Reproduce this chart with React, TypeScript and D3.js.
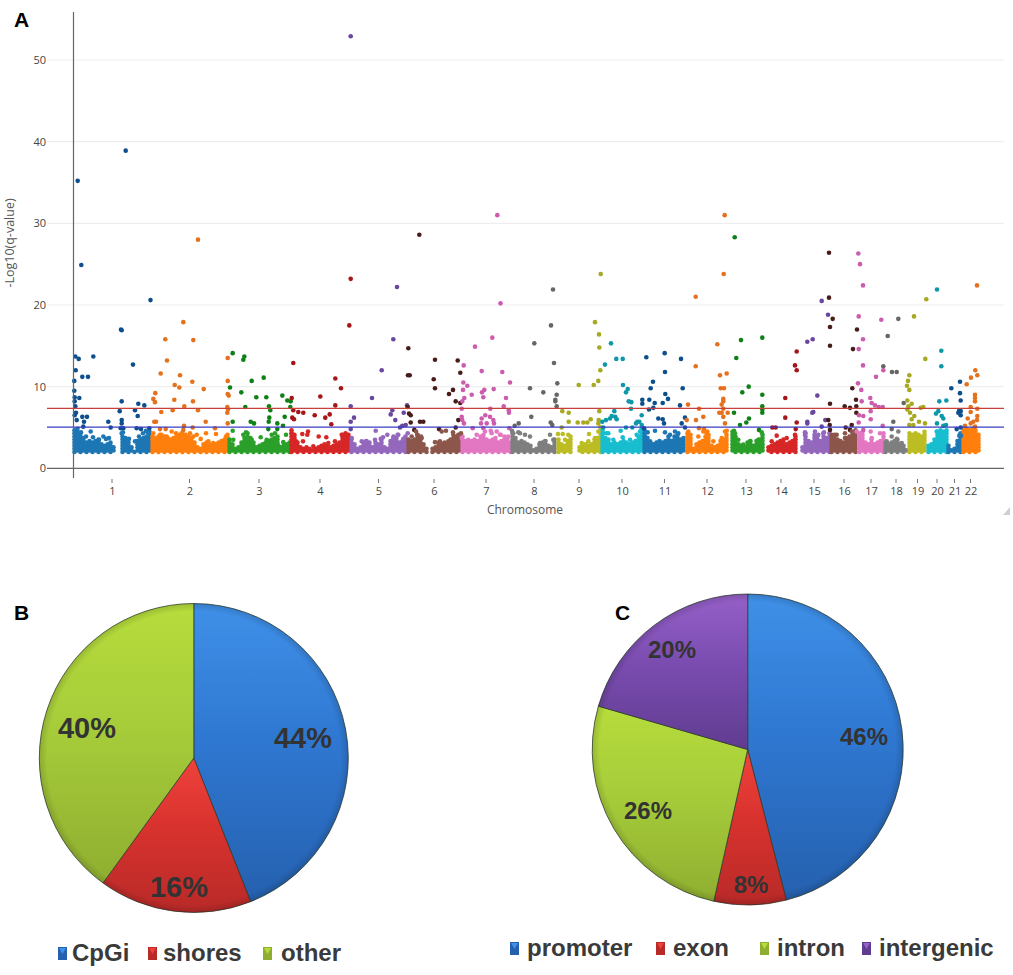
import * as d3 from "d3"

// panel A: genome position is in bins of about 3.2 Mb, counted from the start of chr1
const chromNames = ["1", "2", "3", "4", "5", "6", "7", "8", "9", "10", "11", "12", "13", "14", "15", "16", "17", "18", "19", "20", "21", "22"]
const chromStarts = [0, 78, 155, 217, 277, 334, 388, 438, 484, 528, 570, 613, 655, 691, 725, 757, 785, 811, 835, 854, 874, 889, 906]
const yTicks = [0, 10, 20, 30, 40, 50]
const redLine = 7.33
const blueLine = 5.05

// top of the dense band (q-value), one reading every 3 bins along each chromosome. 0 = gap
const chr1Band = [4.9, 5, 4.6, 4, 3.4, 3.5, 3.3, 3.6, 3.7, 3, 2.9, 3.1, 3.3, 2.6, 0, 0, 4.2, 4, 3.2, 2.8, 2.2, 3.4, 3.6, 3.8, 4.1, 4.5]
const chr2Band = [3.9, 3.9, 4, 4.1, 4.1, 3.8, 3.6, 3.8, 4, 4.2, 4.5, 4.3, 4.2, 3.9, 3.3, 2.6, 2.4, 3, 3.3, 3.1, 3, 3.3, 3.2, 3.4, 3.6, 4.2]
const chr3Band = [3.6, 3.2, 2.7, 2.6, 3.2, 4, 4.3, 3.8, 3.2, 2.9, 2.8, 3, 3.2, 3.4, 3.7, 4, 4.2, 2.6, 2.8, 3.1, 3.3]
const chr4Band = [4.9, 4.2, 3.4, 2.8, 2.5, 2.7, 2.5, 2.3, 2.6, 2.8, 3, 3.2, 3, 2.9, 3.1, 3, 3.3, 4.2, 4.3, 4.2]
const chr5Band = [3.7, 3.2, 2.6, 2.8, 3.3, 3.4, 3.2, 2.9, 3.3, 3.3, 3.6, 2.8, 2.6, 3.6, 4.1, 3.8, 3.5, 3.6, 4]
const chr6Band = [3.7, 3.5, 3.6, 4.2, 3.6, 3.3, 2.5, 0, 2.7, 2.9, 3.3, 3, 3.4, 3.2, 3.6, 3.9, 4, 4.2]
const chr7Band = [4.2, 3.5, 3.2, 3.4, 3.7, 3.5, 3.9, 4.2, 3.8, 3.5, 3.8, 3.9, 3.4, 3.6, 4, 3.8, 3.5]
const chr8Band = [4.4, 3.8, 3.4, 3.5, 3.4, 3.2, 2.8, 2.3, 2.5, 3, 3.2, 3.4, 2.9, 2.6, 3.6]
const chr9Band = [3.8, 3.2, 3, 3.6, 3.9, 0, 0, 2.8, 3, 3.1, 3, 3.3, 3.6, 4, 5.2]
const chr10Band = [5, 3.9, 3.6, 3.2, 3.4, 3.3, 3.2, 3.4, 3.3, 3.1, 3.3, 3.6, 3.9, 5]
const chr11Band = [5, 4, 3.5, 3.2, 3.3, 3.6, 3.4, 3.5, 4.2, 3.6, 3.9, 4.1, 3.8, 4]
const chr12Band = [4.5, 4.4, 2.7, 3, 3.4, 3.5, 3.9, 4.2, 3, 2.7, 3, 3.4, 3.8, 4.4]
const chr13Band = [0, 4.6, 4, 3.2, 2.8, 2.6, 3.3, 3.4, 2.8, 3.4, 3.6, 4.2]
const chr14Band = [0, 2.9, 3.1, 3, 3.3, 3.5, 3.6, 3.3, 3.5, 3.7, 3.9]
const chr15Band = [0, 2.6, 4.3, 3.4, 3.3, 4.2, 3.8, 3.7, 3.9, 4, 4.3]
const chr16Band = [4.2, 4.1, 3.6, 3.6, 3.4, 3.9, 4, 4.3, 4.7]
const chr17Band = [4.6, 4.5, 3.5, 3.2, 3.8, 3.2, 3.4, 3.7, 4.6]
const chr18Band = [3.3, 3, 3.4, 3.7, 3.6, 3.2, 2.8, 2.4]
const chr19Band = [4.5, 4.4, 4.3, 4.2, 4, 4.5]
const chr20Band = [2.8, 3.3, 3.8, 4.6, 4.7, 4.6, 4.8]
const chr21Band = [2.9, 2.4, 2.6, 3.4, 4.3]
const chr22Band = [4.8, 4.9, 5, 5, 4.8, 4.2]
const bands = [chr1Band, chr2Band, chr3Band, chr4Band, chr5Band, chr6Band, chr7Band, chr8Band, chr9Band, chr10Band, chr11Band, chr12Band, chr13Band, chr14Band, chr15Band, chr16Band, chr17Band, chr18Band, chr19Band, chr20Band, chr21Band, chr22Band]

// single points above the band: [position, q-value]
const chr1Hits = [[4.7, 35.2], [52.7, 38.9], [8.3, 24.9], [77.5, 20.6], [2.3, 13.7], [5.7, 13.4], [2.7, 12], [1.3, 10.7], [9.3, 11.2], [15, 11.2], [20.3, 13.7], [1.3, 9.5], [1.7, 8.7], [6.3, 8.6], [1.7, 8.2], [2.3, 7.6], [3, 6.8], [1.7, 6.5], [9.3, 6.3], [14, 6.3], [3.7, 5.9], [11, 5.7], [17.7, 4.5], [10.3, 5.1], [30.3, 3.9], [35.3, 5.7], [37.7, 5], [48, 17], [48.7, 16.9], [60, 12.7], [48.7, 8.2], [46.7, 7], [48.7, 5.9], [48.7, 5.5], [62, 7.1], [65.3, 7.9], [71.3, 7.7], [64.7, 6.4], [63.7, 4.9], [68, 4.8], [47.7, 4.9], [50.3, 4.9], [48.7, 4.3], [76.3, 4.9], [74.7, 4.4], [5, 4.2], [8, 4.4], [13, 3.9], [20, 3.8], [26, 3.5], [33, 3.6], [36, 3.7], [50, 4.4], [56, 3.6], [62, 3.3], [66, 3.9], [70, 4.3], [73, 4.6]]
const chr2Hits = [[125, 28], [110.3, 17.9], [92.3, 15.8], [120.3, 15.7], [94, 13.2], [87.7, 11.6], [107, 11.4], [119.3, 10.6], [101.7, 10.2], [106.3, 9.9], [130.7, 9.7], [82.3, 9.2], [80.3, 8.5], [82, 8.1], [101.3, 8.4], [120, 8.2], [111.3, 7.6], [99.7, 7.1], [88.3, 6.9], [125, 7.1], [81.3, 5.7], [83, 5.7], [132.7, 5.7], [111, 5.2], [119.7, 5], [87, 4.8], [92.7, 4.8], [133, 4.3], [142, 4.9], [143, 4.2], [154.7, 13.5], [154.7, 10.7], [154.7, 9.1], [155.7, 8.9], [154.3, 7.5], [155, 7.2], [154.3, 6.8], [154.7, 5.5], [127.7, 3.6], [80.3, 4.3], [87, 4.1], [93.7, 3.9], [98.7, 4.5], [103, 4.3], [108.7, 4.3], [110.3, 4.7], [117, 4.3], [120.3, 3.9], [123.7, 4.1], [135.3, 3.3], [140.3, 3.1], [148.7, 3.3], [153, 3.9]]
const chr3Hits = [[159.7, 14.1], [171.3, 13.7], [170.3, 13.3], [178.7, 10.7], [190.7, 11.1], [157, 9.9], [168.3, 9.3], [183.3, 8.7], [193.3, 8.7], [209.3, 8.9], [214.3, 8.3], [217.7, 8.2], [172.3, 7.5], [196, 7.6], [197.3, 7.1], [217.3, 7.5], [159.7, 5.7], [196.3, 6.2], [195.7, 5.7], [211.7, 6.3], [177.7, 5.7], [181, 5.5], [204.3, 5.5], [210, 5.2], [195.3, 4.8], [159.7, 4.6], [204.3, 4.8], [213, 4.1], [173, 4.4], [187.7, 3.8], [160.3, 3.5], [170.3, 4.1], [178.7, 3.5], [193.7, 3.5], [198.7, 4.1], [202, 4.3], [205.3, 2.8], [210.3, 3.2]]
const chr4Hits = [[277.7, 23.2], [276.3, 17.5], [220.3, 12.9], [218.7, 8.6], [247.3, 8.8], [262.3, 11], [268, 9.8], [262.3, 7.7], [220.3, 7.1], [225.3, 6.9], [230.3, 6.8], [241.7, 6.5], [256.7, 6.6], [252.3, 6.2], [219.3, 6.2], [221, 6], [258.3, 5.4], [235, 4.5], [234.3, 4.1], [229.3, 4.2], [245.7, 3.9], [253.3, 3.8], [230, 3.3], [218.7, 4.3], [220.3, 3.9], [223, 3.3], [240.3, 2.7], [255.3, 3.1], [262, 3.3], [268.7, 4.1], [273.7, 4.1], [275.3, 3.7]]
const chr5Hits = [[277.7, 52.9], [324, 22.2], [320.3, 15.8], [308.7, 12], [299, 8.6], [277.7, 7.6], [281, 6.2], [277.7, 5.7], [277.7, 4.8], [319.3, 7.1], [317.7, 6.6], [322.3, 5.9], [330.7, 6.8], [334, 7.7], [332.7, 5.3], [329.3, 5.2], [327, 5], [302.7, 4.6], [314.3, 4.1], [310, 3.8], [324.7, 4.1], [334.7, 4.3], [278.7, 3.7], [288.7, 3.3], [293, 3.3], [302, 3.5], [307.7, 3.6], [320.3, 3.7], [325.3, 4.1], [330.3, 3.6]]
const chr6Hits = [[346.3, 28.6], [335.3, 14.7], [335, 11.4], [336.7, 11.4], [334.7, 7.5], [336, 6.7], [337.7, 6.5], [337.7, 5.6], [347, 5.7], [350.3, 5.7], [341.3, 4.7], [343, 4.5], [348, 3.9], [362, 13.3], [360.7, 10.9], [362, 9.8], [380, 9.6], [376, 9.1], [384.7, 13.2], [387.3, 11.7], [382.7, 8.2], [387.3, 8], [385.3, 5.9], [382.7, 5], [366, 4.8], [368.7, 4.5], [373, 4.6], [380, 4.4], [388, 4.3], [338.7, 3.9], [344.3, 4.1], [348.7, 3.7], [362, 3.2], [367, 3.3], [375.3, 3.3], [380.3, 4.1], [385.3, 4.1]]
const chr7Hits = [[424.3, 31], [427.5, 20.2], [390.7, 12.6], [402, 14.9], [419.3, 16], [408.7, 11.9], [429.3, 11.8], [437, 10.5], [390.3, 10.5], [394.3, 10.1], [390, 9.6], [411.3, 9.6], [420.7, 9.7], [409, 9.3], [398.7, 9], [410.3, 8.7], [433, 8.6], [391.3, 8.6], [389.3, 8.2], [430.7, 7.6], [417.3, 7.3], [435.7, 7.1], [436, 6.8], [388.7, 7.3], [388.7, 6.3], [389.3, 5.9], [391, 5.5], [412.3, 6.5], [408.7, 6.1], [417, 6.3], [420.3, 5.9], [408, 5.5], [413.7, 5.5], [421, 5.5], [399.7, 4.9], [410.3, 4.9], [417.7, 4.6], [427.7, 4.1], [436.3, 4.9], [388.7, 3.7], [395.3, 3.5], [403.7, 4.1], [412, 4.5], [418.7, 4.3], [423.7, 4.5], [427, 4.1], [435.3, 3.9]]
const chr8Hits = [[480, 21.9], [478, 17.5], [461.3, 15.3], [481, 12.9], [484.3, 10.4], [457, 9.8], [470.3, 9.3], [483.7, 9], [482.3, 8.4], [482.3, 8.2], [483.7, 7.6], [458.3, 6.3], [477.7, 5.6], [479.3, 5.3], [445.7, 5.5], [441.7, 5.2], [439, 4.6], [445.3, 4.4], [477, 4.1], [452, 4.1], [440.3, 4.3], [447, 4.3], [457, 3.9], [467, 3.1], [472, 3.3], [480.3, 3.5]]
const chr9Hits = [[527.7, 23.8], [522, 17.9], [526, 16.4], [526.3, 14.8], [527.3, 12], [525.3, 10.7], [520.7, 10.2], [505.7, 10.2], [489.3, 7], [495.7, 6.8], [495.7, 5.7], [488.7, 5], [485, 4.2], [489.7, 4.2], [504.7, 5.6], [510.3, 5.6], [514.3, 5.6], [517.7, 6], [526.3, 7], [525.7, 5.9], [525.3, 5.5], [516, 4.2], [495.3, 4.1], [492, 3.5], [508.7, 3.1], [515.3, 3.3], [522, 3.7], [525.3, 4.5]]
const chr10Hits = [[538, 15.3], [543.3, 13.4], [549.7, 13.4], [532, 12.7], [550, 10.2], [554.7, 9.7], [553, 9.3], [555.7, 8.2], [558.3, 8.1], [558, 7.3], [541.3, 7], [538.7, 6.4], [542.3, 6.3], [537, 6.1], [543.7, 6], [529.3, 5.7], [533, 5.9], [564.3, 5.7], [568.7, 6.5], [530.3, 5], [553, 5], [547.7, 4.6], [559.3, 5], [563, 5.5], [568.7, 5.3], [566.3, 5.7], [535.3, 4.3], [549.7, 3.8], [530.3, 4.3], [533.7, 4.3], [540.3, 3.5], [557, 3.5], [563.7, 4.1], [567, 4.5]]
const chr11Hits = [[573.3, 13.6], [591.7, 14.1], [592, 11.8], [580, 10.6], [577.7, 9.8], [592.3, 9.1], [595, 8.5], [576.3, 8.4], [569.3, 8.4], [569.3, 7.9], [581.7, 8], [589.7, 8], [580.3, 7.4], [576, 7.2], [585.3, 6.1], [589.7, 6], [591, 5.5], [607, 7.7], [608, 13.4], [574.7, 4.4], [582, 4.6], [592, 4.4], [571, 4.9], [609.7, 9.8], [612, 6.2], [608.7, 5.5], [612, 5], [572, 3.9], [577, 3.3], [583.7, 3.1], [597, 4.1], [602, 4.5], [605.3, 4.3]]
const chr12Hits = [[651.7, 31], [650.7, 23.8], [622.7, 21], [622.7, 12.5], [644.3, 15.2], [647, 11.4], [653.7, 11.6], [647.7, 9.8], [651, 9.8], [650.3, 8.5], [650.3, 8.2], [648.7, 7.8], [615, 7.8], [626, 7.3], [650.3, 7.3], [648.7, 6.8], [654.7, 6.8], [646.3, 6.8], [650.3, 6.3], [652, 5.5], [613.7, 5.9], [623, 5.9], [630.3, 6.3], [626, 4.9], [631, 4.8], [653.7, 4.6], [634.3, 4.5], [615.3, 4.5], [625.3, 3.9], [630.3, 4.5], [633.7, 4.3], [640.3, 3.3], [648.7, 3.7], [652, 4.5]]
const chr13Hits = [[661.7, 28.3], [668, 15.7], [689.3, 16], [663.3, 13.5], [675.7, 10], [669.3, 9.3], [689.3, 9], [689.3, 7.6], [689.3, 7.2], [689.3, 6.8], [661, 6.8], [676, 6.1], [673.3, 5.6], [667, 5.3], [661, 4.6], [686, 4.7], [688.7, 4.4], [662, 4.3], [665.3, 3.5], [670.3, 2.9], [677, 3.3], [685.3, 3.5]]
const chr14Hits = [[723.7, 14.3], [722, 12.6], [723.7, 12], [712.3, 8.6], [712.3, 6.2], [723.7, 5.6], [699.3, 5], [702.7, 5], [722.7, 4.8], [722, 4.1], [703.7, 4], [698.7, 3.3], [708.7, 3.3], [713.7, 3.7], [722, 3.5]]
const chr15Hits = [[755, 18.8], [748.7, 20.5], [734.3, 15.5], [739.7, 15.8], [744.3, 8.9], [740.3, 6.9], [739.3, 6.8], [734.3, 5.7], [734.3, 5.5], [748.7, 5.1], [752.3, 5.9], [732, 4.4], [742, 4.5], [751, 4.4], [745.3, 4.1], [732, 4.1], [744.3, 3.9], [750.3, 4.3]]
const chr16Hits = [[756, 26.4], [756, 20.9], [759.7, 18.3], [757, 17.3], [757, 15], [757, 7.9], [784, 17], [780, 14.6], [779.3, 9.8], [783, 8.4], [771.7, 7.6], [777, 7.4], [783.3, 7.6], [783.3, 6.8], [755.3, 5.9], [756.7, 5.3], [757, 4.7], [772.7, 5], [778.7, 5.3], [772, 4.3], [777, 4.7], [758.7, 4.1], [763.7, 4.1], [772, 3.7], [778.7, 4.5]]
const chr17Hits = [[785.3, 26.3], [787, 25], [790, 22.4], [785.7, 18.6], [790, 15.8], [785.7, 14.6], [790, 12.6], [785, 10.4], [788.3, 9.6], [808.3, 18.2], [803, 11.2], [810.3, 12], [797.3, 8.6], [788.7, 8.2], [798.7, 8], [802, 7.7], [805.7, 7.5], [809.7, 7.5], [797.7, 7], [786, 6.5], [790.3, 6.4], [797.7, 6], [785.7, 5.6], [809.7, 5.2], [797.7, 4.5], [783.7, 4.5], [790.3, 4.7], [798.7, 3.7], [807, 4.3]]
const chr18Hits = [[825.3, 18.3], [814.7, 16.2], [810.3, 12.5], [819, 11.8], [823.7, 11.8], [830.7, 8], [820.3, 5.7], [818.7, 4.8], [825.3, 4.5], [813.7, 3.3], [818.7, 3.9], [823.7, 3.6], [828.7, 3.1]]
const chr19Hits = [[841, 18.6], [853.3, 20.7], [852.3, 13.4], [836.3, 11.4], [835, 10.7], [834, 10.1], [836.3, 9.6], [834.3, 8.3], [838.7, 7.9], [835.3, 7.6], [834.3, 7.2], [847.7, 7.4], [850.3, 7.5], [837, 6.8], [841.3, 6.4], [838.7, 6], [846, 5.7], [836.3, 5.3], [840.3, 5.3], [852, 5.5]]
const chr20Hits = [[864, 21.9], [868.3, 14.4], [868.3, 12.5], [866.3, 8.2], [873.3, 8.3], [865.3, 7], [863, 6.7], [868.7, 6.4], [870.3, 6.1], [864, 5.5], [873, 5.3], [870.3, 5.2], [863.7, 4.5], [868.7, 4.5], [872, 4.3]]
const chr21Hits = [[887, 10.6], [878.3, 9.8], [887, 9.2], [887.7, 8.3], [886.3, 7.1], [887.7, 7], [885.3, 6.8], [887.7, 6.5], [883.7, 4.8], [887.7, 5], [888, 4], [886.3, 4]]
const chr22Hits = [[904, 22.4], [902.3, 12], [904.3, 11.4], [898, 11.1], [893.7, 10.3], [902, 9], [902, 8.6], [902, 8.2], [897.7, 7.5], [904.3, 7.3], [897.7, 6.9], [904.3, 6.4], [894.7, 6.1], [904, 5.9], [900.3, 5.7], [897.7, 5.5], [892, 5.2], [902, 5.1]]
const hits = [chr1Hits, chr2Hits, chr3Hits, chr4Hits, chr5Hits, chr6Hits, chr7Hits, chr8Hits, chr9Hits, chr10Hits, chr11Hits, chr12Hits, chr13Hits, chr14Hits, chr15Hits, chr16Hits, chr17Hits, chr18Hits, chr19Hits, chr20Hits, chr21Hits, chr22Hits]

const bandColors = ["#1f77b4", "#ff7f0e", "#2ca02c", "#d62728", "#9467bd", "#8c564b", "#e377c2", "#7f7f7f", "#bcbd22", "#17becf"]
const hitColors = ["#0f4f8c", "#e5711c", "#118018", "#a51218", "#6a479e", "#4a1f1c", "#cc5cae", "#666666", "#a8a820", "#1098aa"]

const cpgLabels = ["CpGi", "shores", "other"]
const cpgShares = [44, 16, 40]
const cpgPrinted = ["44%", "16%", "40%"]
const geneLabels = ["promoter", "exon", "intron", "intergenic"]
const geneShares = [46, 7.5, 26, 20.5]
const genePrinted = ["46%", "8%", "26%", "20%"]

const sliceFills: Record<string, string[]> = {
  blue: ["#3f90e8", "#2f78d2", "#2560ae"],
  red: ["#f0423c", "#d8322e", "#b82a28"],
  green: ["#b6dc3c", "#a6cc3a", "#8fae30"],
  purple: ["#9560c8", "#7a4cb0", "#603c90"],
}
const cpgColors = ["blue", "red", "green"]
const geneColors = ["blue", "red", "green", "purple"]

const x = d3.scaleLinear().domain([0, 906]).range([73, 979])
const y = d3.scaleLinear().domain([0, 50]).range([468.3, 60])

const sans = "'Open Sans', sans-serif"
const arial = "'Liberation Sans', Arial, sans-serif"

function Pie({ cx, cy, r, shares, colors, id }: { cx: number; cy: number; r: number; shares: number[]; colors: string[]; id: string }) {
  const slices = d3.pie<number>().sort(null)(shares)
  const arc = d3.arc<d3.PieArcDatum<number>>().innerRadius(0).outerRadius(r)
  return (
    <g transform={`translate(${cx},${cy})`}>
      {slices.map((s, i) => (
        <path key={i} d={arc(s) ?? ""} fill={`url(#fill-${colors[i]})`} stroke="#2b3a2a" strokeWidth={1} strokeOpacity={0.75} />
      ))}
      <circle r={r} fill={`url(#rim-${id})`} />
    </g>
  )
}

function Legend({ labels, colors, xs, textXs, yPos }: { labels: string[]; colors: string[]; xs: number[]; textXs: number[]; yPos: number }) {
  return (
    <g>
      {labels.map((label, i) => (
        <g key={label}>
          <rect x={xs[i]} y={yPos - 9} width={9} height={13} fill={sliceFills[colors[i]][2]} />
          <path d={`M${xs[i] + 1},${yPos - 8}h7l-3.5,6z`} fill={sliceFills[colors[i]][0]} />
          <text x={textXs[i]} y={yPos + 5} fontFamily={arial} fontSize={24} fontWeight="bold" fill="#3a3a3a">
            {label}
          </text>
        </g>
      ))}
    </g>
  )
}

export default function App() {
  return (
    <svg width={1013} height={975} style={{ position: "absolute", left: 0, top: 0, background: "#fff" }}>
      <defs>
        {Object.entries(sliceFills).map(([name, stops]) => (
          <linearGradient key={name} id={`fill-${name}`} x1="0" y1="0" x2="0" y2="1">
            <stop offset="0" stopColor={stops[0]} />
            <stop offset="0.45" stopColor={stops[1]} />
            <stop offset="1" stopColor={stops[2]} />
          </linearGradient>
        ))}
        {["b", "c"].map((id) => (
          <radialGradient key={id} id={`rim-${id}`}>
            <stop offset="0.95" stopColor="#000" stopOpacity={0} />
            <stop offset="1" stopColor="#000" stopOpacity={0.14} />
          </radialGradient>
        ))}
        <filter id="soft" x="-5%" y="-5%" width="110%" height="110%">
          <feGaussianBlur stdDeviation="0.35" />
        </filter>
      </defs>

      {/* Manhattan plot */}
      {yTicks.slice(1).map((t) => (
        <line key={t} x1={47} x2={1004} y1={y(t)} y2={y(t)} stroke="#eeeeee" strokeWidth={1.2} />
      ))}
      <g filter="url(#soft)">
        {bands.map((band, c) =>
          band.map((top, k) =>
            top > 0
              ? d3.range(2 + (k % 2) * 0.19, top + 0.01, 0.38).map((q) => (
                  <circle key={`${c}-${k}-${q}`} cx={x(chromStarts[c] + 1.5 + k * 3)} cy={y(q)} r={2.3} fill={bandColors[c % 10]} />
                ))
              : null,
          ),
        )}
        {hits.map((list, c) =>
          list.map(([pos, q], k) => (
            <circle key={`${c}-${k}`} cx={x(pos)} cy={y(q)} r={2.3} fill={q > 4.6 ? hitColors[c % 10] : bandColors[c % 10]} />
          )),
        )}
      </g>
      <line x1={47} x2={1004} y1={y(redLine)} y2={y(redLine)} stroke="#c8403c" strokeWidth={1.2} />
      <line x1={47} x2={1004} y1={y(blueLine)} y2={y(blueLine)} stroke="#3a3cc4" strokeWidth={1.2} />
      <line x1={47} x2={1004} y1={y(0)} y2={y(0)} stroke="#666" strokeWidth={1.2} />
      <line x1={73.5} x2={73.5} y1={12} y2={478} stroke="#666" strokeWidth={1.2} />

      {yTicks.map((t) => (
        <text key={t} x={46} y={y(t) + 4} textAnchor="end" fontFamily={sans} fontSize={11} fill="#444">
          {t}
        </text>
      ))}
      {chromNames.map((name, c) => {
        const mid = x((chromStarts[c] + chromStarts[c + 1]) / 2)
        return (
          <g key={name}>
            <line x1={mid} x2={mid} y1={479} y2={483} stroke="#777" />
            <text x={mid + 0.5} y={495} textAnchor="middle" fontFamily={sans} fontSize={11} fill="#444">
              {name}
            </text>
          </g>
        )
      })}
      <text x={525} y={514} textAnchor="middle" fontFamily={sans} fontSize={12} fill="#555">
        Chromosome
      </text>
      <text transform="translate(14,243) rotate(-90)" textAnchor="middle" fontFamily={sans} fontSize={12.5} fill="#555">
        -Log10(q-value)
      </text>
      <path d="M1010,507 L1003,515 H1010 Z" fill="#cfcfcf" />

      <text x={14} y={27} fontFamily={arial} fontSize={21} fontWeight="bold" fill="#000">A</text>
      <text x={14} y={620} fontFamily={arial} fontSize={21} fontWeight="bold" fill="#000">B</text>
      <text x={615} y={620} fontFamily={arial} fontSize={21} fontWeight="bold" fill="#000">C</text>

      {/* Pie B */}
      <Pie cx={193.8} cy={758} r={154.5} shares={cpgShares} colors={cpgColors} id="b" />
      <g fontFamily={arial} fontWeight="bold" fontSize={29} fill="#333" textAnchor="middle">
        <text x={303} y={748}>{cpgPrinted[0]}</text>
        <text x={179} y={897}>{cpgPrinted[1]}</text>
        <text x={87} y={738}>{cpgPrinted[2]}</text>
      </g>
      <Legend labels={cpgLabels} colors={cpgColors} xs={[58, 148, 263]} textXs={[72, 163, 281]} yPos={956} />

      {/* Pie C */}
      <Pie cx={747.7} cy={749.5} r={155.5} shares={geneShares} colors={geneColors} id="c" />
      <g fontFamily={arial} fontWeight="bold" fontSize={24} fill="#333" textAnchor="middle">
        <text x={864} y={745}>{genePrinted[0]}</text>
        <text x={751} y={893}>{genePrinted[1]}</text>
        <text x={648} y={819}>{genePrinted[2]}</text>
        <text x={672} y={658}>{genePrinted[3]}</text>
      </g>
      <Legend labels={geneLabels} colors={geneColors} xs={[510, 656, 760, 862]} textXs={[527, 673, 777, 879]} yPos={951} />
    </svg>
  )
}
